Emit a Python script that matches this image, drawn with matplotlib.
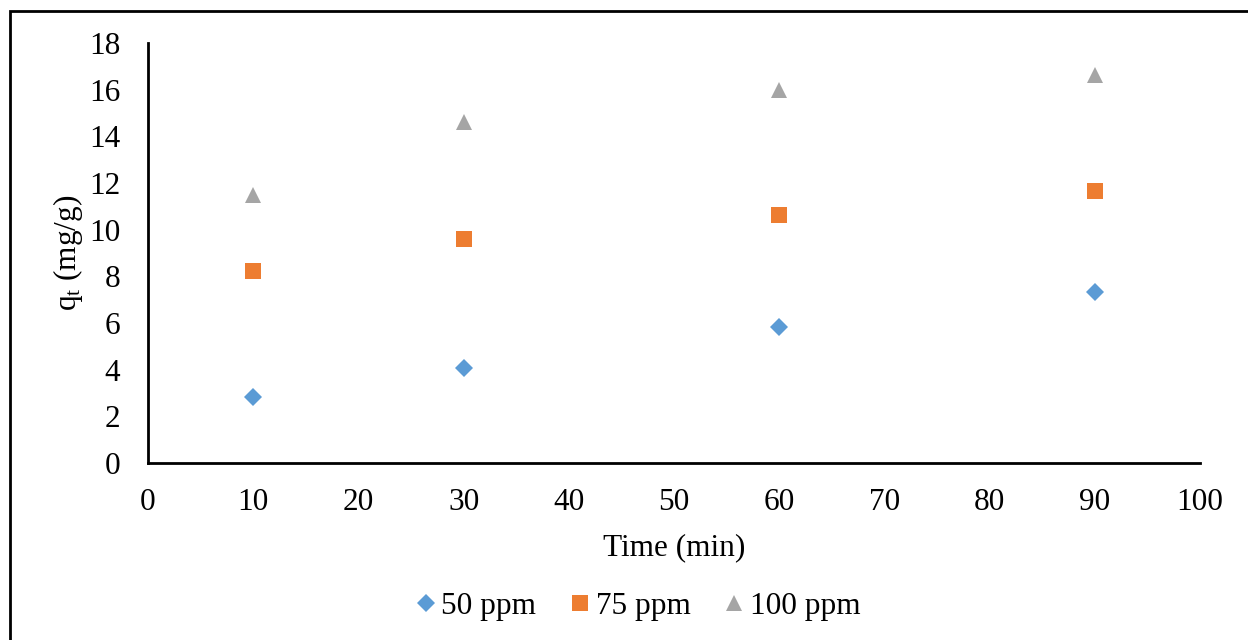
import matplotlib.pyplot as plt
from matplotlib.patches import Rectangle

plt.rcParams["font.family"] = ["Liberation Serif", "DejaVu Serif"]
plt.rcParams["mathtext.fontset"] = "custom"
plt.rcParams["mathtext.rm"] = "Liberation Serif"
plt.rcParams["mathtext.it"] = "Liberation Serif:italic"

time_min = [10, 30, 60, 90]
q_50 = [2.83, 4.07, 5.83, 7.33]
q_75 = [8.23, 9.6, 10.63, 11.66]
q_100 = [11.49, 14.61, 15.99, 16.63]

series = [
    ("50 ppm", q_50, "D", "#5b9bd5", 9),
    ("75 ppm", q_75, "s", "#ed7d31", 11),
    ("100 ppm", q_100, "^", "#a5a5a5", 12),
]

fs = 22.5

fig = plt.figure(figsize=(12.48, 6.4), dpi=100)
ax = fig.add_axes([0.1186, 0.2766, 0.8429, 0.6562])

for name, vals, mk, col, ms in series:
    ax.plot(time_min, vals, linestyle="none", marker=mk, color=col,
            markersize=ms, markeredgewidth=0, label=name)

ax.set_xlim(0, 100)
ax.set_ylim(0, 18)
ax.set_xticks(range(0, 101, 10))
ax.set_yticks(range(0, 19, 2))
ax.tick_params(length=0, labelsize=fs)
ax.tick_params(axis="x", pad=18)
ax.tick_params(axis="y", pad=20)
for s in ["top", "right"]:
    ax.spines[s].set_visible(False)
for s in ["left", "bottom"]:
    ax.spines[s].set_linewidth(2)

ax.set_xlabel("Time (min)", fontsize=fs, labelpad=12)
ax.set_ylabel(r"$\mathregular{q_t}$ (mg/g)", fontsize=fs, labelpad=3)

fig.legend(loc="center", bbox_to_anchor=(0.509, 0.052), ncol=3, frameon=False,
           fontsize=fs, handletextpad=0.0, columnspacing=0.9, handlelength=1.0)

fig.patches.append(Rectangle((0.008, -0.1), 1.1, 1.083, transform=fig.transFigure,
                             fill=False, edgecolor="black", linewidth=2))

fig.savefig("out.png", dpi=100)
